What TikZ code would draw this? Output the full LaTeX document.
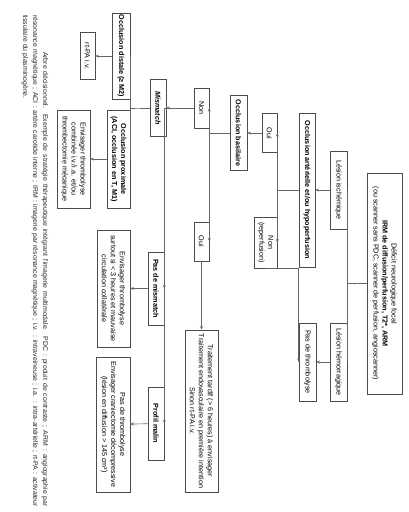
\documentclass[tikz,border=0pt]{standalone}
\usepackage{fontspec}
\setmainfont{Liberation Sans}
\usetikzlibrary{arrows.meta}
\tikzset{   block/.style = {draw=black!70, fill=white, line width=0.6pt, rectangle, align=center, inner sep=1pt, font=\fontsize{7.2}{9}\selectfont},
            title/.style = {block, font=\fontsize{7.2}{9}\selectfont\bfseries},
            link/.style = {draw=black!60, line width=0.6pt},
            legend/.style = {text width=492pt, align=justify, inner sep=0pt, text=black!85, font=\fontsize{6.9}{10}\selectfont},
            >={Stealth[length=3.5pt, width=3pt]}}

\begin{document}
\begin{tikzpicture}[x=1pt, y=1pt, rotate=-90, transform shape]
    \useasboundingbox (0,0) rectangle (512,408);
    \node[block, minimum width=221pt, minimum height=35pt](irm)at(283.5,384.5){Déficit neurologique focal\\\textbf{IRM de diffusion/perfusion, T2*, ARM}\\(ou scanner sans PDC, scanner de perfusion, angioscanner)};
    \node[block, minimum width=78pt, minimum height=17pt](isch)at(190,338.5){Lésion ischémique};
    \node[block, minimum width=78pt, minimum height=17pt](hemo)at(362,338.5){Lésion hémorragique};
    \node[title, minimum width=154pt, minimum height=16pt](occart)at(190,307){Occlusion artérielle et/ou hypoperfusion};
    \node[block, minimum width=78pt, minimum height=17pt](pasthr)at(362,307.5){Pas de thrombolyse};
    \draw[link](irm.south)--++(0,-9)coordinate(b1);
    \draw[link](isch.north)-|(b1)|-(hemo.north);
    \draw[link, ->](isch)--(occart);
    \draw[link, ->](hemo)--(pasthr);

    \node[block, minimum width=39pt, minimum height=15pt](oui1)at(133,269.5){Oui};
    \node[block, minimum width=51pt, minimum height=23pt](non1)at(242.5,265.5){Non\\(reperfusion)};
    \draw[link](occart.south)--++(0,-7)coordinate(b2);
    \draw[link, ->](b2)|-(oui1.north);
    \draw[link, ->](b2)|-(non1.north);
    \draw[link, ->](non1.east)|-(pasthr.south);

    \node[title, minimum width=75pt, minimum height=17pt](basil)at(133,238.5){Occlusion basilaire};
    \draw[link, ->](oui1)--(basil);
    \node[block, minimum width=40pt, minimum height=15pt](non2)at(108,201.5){Non};
    \node[block, minimum width=39pt, minimum height=15pt](oui2)at(241.5,201.5){Oui};
    \node[block, minimum width=162pt, minimum height=33pt](tardif)at(411,201.5){Traitement tardif (> 6 heures) à envisager\\Traitement endovasculaire en première intention\\Sinon rt-PA i.v.};
    \draw[link](basil.south)--++(0,-7)coordinate(b3);
    \draw[link, ->](b3)|-(non2.north);
    \draw[link, ->](b3)|-(oui2.north);
    \draw[link, ->](oui2)--(tardif);

    \node[title, minimum width=57pt, minimum height=16pt](mismatch)at(108,158){\itshape Mismatch};
    \node[title, minimum width=73pt, minimum height=16pt](pasmis)at(288.5,156){Pas de mismatch};
    \node[title, minimum width=73pt, minimum height=16pt](malin)at(423.5,156){Profil malin};
    \coordinate(b4)at(108,178);
    \draw[link, ->](non2)--(mismatch);
    \draw[link, ->](b4)|-(pasmis.north);
    \draw[link, ->](b4)|-(malin.north);

    \node[title, minimum width=86pt, minimum height=18pt](distale)at(56,121){Occlusion distale (≥ M2)};
    \node[title, minimum width=98pt, minimum height=23pt](proxi)at(159,118.5){Occlusion proximale\\(ACI, occlusion en T, M1)};
    \draw[link](mismatch.south)--++(0,-10)coordinate(b5);
    \draw[link](distale.north)-|(b5)|-(proxi.north);

    \node[block, minimum width=47pt, minimum height=15pt](rtpa)at(56,87.5){rt-PA i.v.};
    \node[block, minimum width=98pt, minimum height=33pt](combi)at(159,73.5){Envisager thrombolyse\\combinée i.v./i.a. et/ou\\thrombectomie mécanique};
    \node[block, minimum width=117pt, minimum height=33pt](surtout)at(288.5,113.5){Envisager thrombolyse\\surtout si < 3 heures et mauvaise\\circulation collatérale};
    \node[block, minimum width=135pt, minimum height=34pt](cranie)at(424.5,113){Pas de thrombolyse\\Envisager craniectomie décompressive\\(lésion en diffusion > 145 cm³)};
    \draw[link, ->](distale)--(rtpa);
    \draw[link, ->](proxi)--(combi);
    \draw[link, ->](pasmis)--(surtout);
    \draw[link, ->](malin)--(cranie);

    \node[legend](legende)at(261,35){\hspace*{37pt}Arbre décisionnel. Exemple de stratégie thérapeutique intégrant l'imagerie multimodale. PDC : produit de contraste ; ARM : angiographie par\linebreak résonance magnétique ; ACI : artère carotide interne ; IRM : imagerie par résonance magnétique ; i.v. : intraveineuse ; i.a. : intra-artérielle ; rt-PA : activateur\linebreak tissulaire du plasminogène.};
\end{tikzpicture}
\end{document}
